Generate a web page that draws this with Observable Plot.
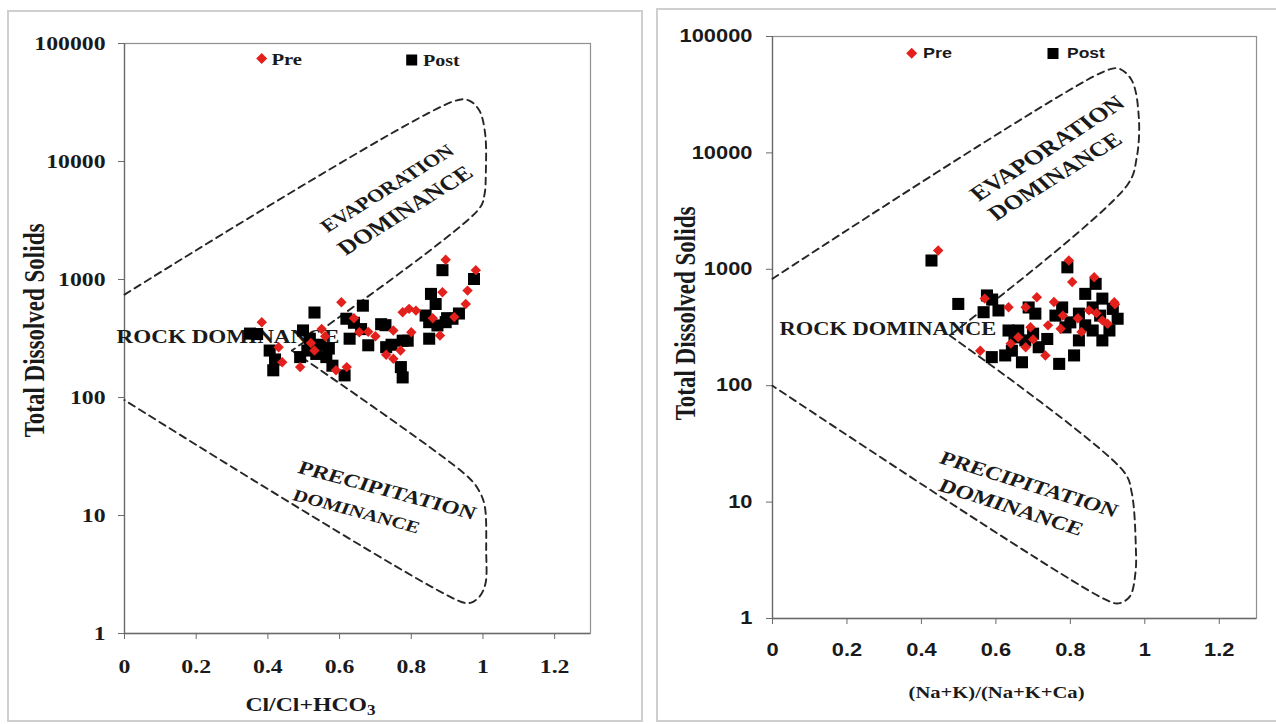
<!DOCTYPE html>
<html><head><meta charset="utf-8">
<script src="https://cdn.jsdelivr.net/npm/d3@7"></script>
<script src="https://cdn.jsdelivr.net/npm/@observablehq/plot@0.6"></script>
<style>
html,body{margin:0;padding:0;background:#fff}
body{width:1276px;height:724px;position:relative;overflow:hidden}
.chart{position:absolute;top:0}
.panel{position:absolute;border:2px solid #cfcfcf;box-sizing:border-box;pointer-events:none}
#overlay{position:absolute;left:0;top:0;pointer-events:none}
</style></head><body>
<div id="left" class="chart" style="left:0;width:640px;height:724px"></div>
<div id="right" class="chart" style="left:648px;width:628px;height:724px"></div>
<div class="panel" style="left:7px;top:10px;width:636px;height:712px"></div>
<div class="panel" style="left:656px;top:8px;width:630px;height:714px"></div>
<svg id="overlay" width="1276" height="724"></svg>
<script>
// ---------- tick labels ----------
const xTicks = [0, 0.2, 0.4, 0.6, 0.8, 1, 1.2];
const yTicks = [1, 10, 100, 1000, 10000, 100000];

// ---------- left: Cl/(Cl+HCO3) vs TDS ----------
const anionPreRatio = [0.383,0.43,0.44,0.49,0.55,0.605,0.62,0.655,0.75,0.75,0.776,0.794,0.813,0.80,0.88,0.887,0.896,0.952,0.957,0.98,0.52,0.56,0.68,0.70,0.73,0.77,0.86,0.92,0.59,0.53,0.64];
const anionPreTDS   = [435,267,199,181,380,642,181,357,370,213,527,564,545,357,335,780,1470,620,805,1200,290,330,360,330,230,250,470,480,170,250,470];
const anionPostRatio = [0.887,0.975,0.855,0.868,0.84,0.85,0.873,0.896,0.915,0.933,0.85,0.776,0.771,0.776,0.73,0.716,0.728,0.68,0.66,0.628,0.619,0.665,0.53,0.498,0.517,0.51,0.535,0.563,0.58,0.614,0.405,0.415,0.35,0.49,0.79,0.545,0.52,0.57,0.64,0.42,0.37,0.90,0.745];
const anionPostTDS   = [1200,1010,755,620,495,435,408,435,465,515,315,303,181,148,267,418,410,277,380,315,465,600,525,370,315,250,234,220,186,154,250,170,348,220,303,280,270,260,430,210,345,470,280];
const anionUpperBoundRatio = [0, 0.92, 0.96, 0.99, 1.006, 1.008, 1.004, 0.99, 0.467];
const anionUpperBoundTDS   = [745, 32500, 33000, 27000, 17300, 8000, 5200, 4000, 250];
const anionLowerBoundRatio = [0.467, 0.96, 0.99, 1.005, 1.009, 1.007, 0.99, 0.965, 0.94, 0];
const anionLowerBoundTDS   = [250, 21, 16, 12, 5, 2.65, 2.05, 1.82, 1.85, 95];

// ---------- right: (Na+K)/(Na+K+Ca) vs TDS ----------
const cationPreRatio = [0.445,0.558,0.634,0.71,0.756,0.796,0.805,0.864,0.918,0.886,0.85,0.693,0.68,0.733,0.66,0.774,0.68,0.57,0.82,0.90,0.74,0.64,0.70,0.78,0.87,0.92,0.83];
const cationPreTDS   = [1450,200,472,575,524,1190,777,855,522,364,444,318,214,182,261,309,472,560,380,340,330,230,250,400,420,500,290];
const cationPostRatio = [0.427,0.499,0.576,0.567,0.607,0.634,0.589,0.625,0.67,0.679,0.688,0.706,0.738,0.77,0.792,0.778,0.787,0.81,0.823,0.823,0.84,0.868,0.886,0.86,0.86,0.886,0.905,0.927,0.914,0.715,0.66,0.643,0.76,0.80,0.84,0.65,0.70,0.88,0.59];
const cationPostTDS   = [1190,504,596,428,443,298,176,182,159,245,470,416,252,154,1040,470,317,182,245,416,615,750,560,470,298,245,298,376,457,214,298,200,400,350,330,260,280,400,550];
const cationUpperBoundRatio = [0, 0.89, 0.93, 0.965, 0.984, 0.978, 0.954, 0.476];
const cationUpperBoundTDS   = [830, 50000, 53000, 42000, 20000, 9000, 5350, 270];
const cationLowerBoundRatio = [0.476, 0.945, 0.965, 0.976, 0.975, 0.96, 0.93, 0.895, 0];
const cationLowerBoundTDS   = [270, 18, 12, 4, 2.5, 1.55, 1.35, 1.45, 100];

// ---------- text ----------
const zoneLabels = ["EVAPORATION", "DOMINANCE", "PRECIPITATION", "DOMINANCE"];
const rockLabel = "ROCK DOMINANCE";
const yTitle = "Total Dissolved Solids";
const seriesNames = ["Pre", "Post"];

const STRETCH = 1.25;
const serif = "'Liberation Serif', 'Times New Roman', serif";
const sans = "'Liberation Sans', Arial, sans-serif";

function stretchText(svg) {
  svg.querySelectorAll("text").forEach(t => {
    const tr = t.getAttribute("transform") || "";
    let tx = 0, ty = 0, rest = tr;
    const m = tr.match(/translate\(\s*([-\d.eE+]+)(?:[\s,]+([-\d.eE+]+))?\s*\)/);
    if (m) { tx = +m[1]; ty = +(m[2] || 0); rest = tr.replace(m[0], ""); }
    const xa = t.getAttribute("x"), ya = t.getAttribute("y");
    if (xa != null && xa !== "" && !isNaN(+xa)) { tx += +xa; t.removeAttribute("x"); }
    if (ya != null && ya !== "" && !isNaN(+ya)) { ty += +ya; t.removeAttribute("y"); }
    t.setAttribute("transform", (`translate(${tx},${ty}) scale(${STRETCH},1) ` + rest).trim());
  });
}

function gibbs(cfg) {
  const pts = (xs, ys) => xs.map((x, i) => ({x, y: ys[i]}));
  const pre = pts(cfg.preX, cfg.preY);
  const post = pts(cfg.postX, cfg.postY);
  const bounds = [
    ...pts(cfg.upX, cfg.upY).map(d => ({...d, z: "upper"})),
    ...pts(cfg.loX, cfg.loY).map(d => ({...d, z: "lower"}))
  ];
  const fmt = d => String(d);
  const svg = Plot.plot({
    width: cfg.width, height: 724,
    marginLeft: cfg.ml, marginRight: cfg.mr, marginTop: cfg.mt, marginBottom: cfg.mb,
    style: {fontFamily: cfg.tickFont, fontSize: cfg.tickSize + "px", fontWeight: "bold", color: "#1a1a1a", background: "transparent", overflow: "visible"},
    x: {domain: [0, 1.3], label: null},
    y: {type: "log", domain: [1, 100000], label: null},
    marks: [
      Plot.frame({stroke: "#8f8f8f", strokeWidth: 1.2}),
      Plot.ruleX([0], {stroke: "#6a6a6a", strokeWidth: 1.3}),
      Plot.ruleY([1], {stroke: "#6a6a6a", strokeWidth: 1.3}),
      Plot.axisX({ticks: xTicks, tickFormat: fmt, tickSize: 6, tickPadding: 19.5, label: null, stroke: "#6a6a6a"}),
      Plot.axisY({ticks: yTicks, tickFormat: fmt, tickSize: 6, tickPadding: cfg.yPad, label: null, stroke: "#6a6a6a"}),
      Plot.line(bounds, {x: "x", y: "y", z: "z", stroke: "#262626", strokeWidth: 1.9, strokeDasharray: "7,5", curve: "catmull-rom"}),
      Plot.text(cfg.ann, {x: "x", y: "y", text: d => d.text, rotate: d => d.rotate, fontSize: d => d.size, fontFamily: serif, fontWeight: "bold", fill: "#1a1a1a"}),
      Plot.text([cfg.rock], {x: "x", y: "y", text: d => d.text, dx: cfg.rock.dx, textAnchor: "start", fontSize: cfg.rock.size, fontFamily: serif, fontWeight: "bold", fill: "#1a1a1a"}),
      Plot.dot(post, {x: "x", y: "y", symbol: "square", r: 6.8, fill: "#000"}),
      Plot.dot(pre, {x: "x", y: "y", symbol: "diamond2", r: 4.7, fill: "#e3201b"}),
      Plot.text([yTitle], {text: d => d, frameAnchor: "left", textAnchor: "middle", lineAnchor: "middle", dx: cfg.yTitleDx, dy: cfg.yTitleDy, rotate: -90, fontSize: 23, fontFamily: serif, fontWeight: "bold", fill: "#1a1a1a"}),
      Plot.text([cfg.xTitle], {text: d => d, frameAnchor: "bottom", textAnchor: "middle", lineAnchor: "middle", dx: cfg.xTitleDx, dy: cfg.xTitleDy, fontSize: cfg.xTitleSize, fontFamily: serif, fontWeight: "bold", fill: "#1a1a1a"})
    ]
  });
  stretchText(svg);
  const t = [...svg.querySelectorAll("text")].find(t => t.textContent === "Cl/Cl+HCO3");
  if (t) {
    t.textContent = "Cl/Cl+HCO";
    const ts = document.createElementNS("http://www.w3.org/2000/svg", "tspan");
    ts.setAttribute("dy", "0.3em");
    ts.setAttribute("font-size", "0.72em");
    ts.textContent = "3";
    t.appendChild(ts);
  }
  return svg;
}

document.getElementById("left").appendChild(gibbs({
  width: 640, ml: 124, mr: 50, mt: 43, mb: 91,
  tickFont: serif, tickSize: 19, yPad: 13,
  preX: anionPreRatio, preY: anionPreTDS, postX: anionPostRatio, postY: anionPostTDS,
  upX: anionUpperBoundRatio, upY: anionUpperBoundTDS, loX: anionLowerBoundRatio, loY: anionLowerBoundTDS,
  ann: [
    {text: zoneLabels[0], x: 0.733, y: 5900, rotate: -38, size: 17.8},
    {text: zoneLabels[1], x: 0.783, y: 3845, rotate: -38, size: 20.5},
    {text: zoneLabels[2], x: 0.733, y: 16.3, rotate: 18.5, size: 18.8},
    {text: zoneLabels[3], x: 0.647, y: 10.8, rotate: 18.5, size: 16.6}
  ],
  rock: {text: rockLabel, x: 0, y: 326, dx: -8, size: 18.5},
  yTitleDx: -90, yTitleDy: -8,
  xTitle: "Cl/Cl+HCO3", xTitleDx: -47, xTitleDy: 71, xTitleSize: 19
}));

document.getElementById("right").appendChild(gibbs({
  width: 628, ml: 124, mr: 20, mt: 36, mb: 106,
  tickFont: sans, tickSize: 17.5, yPad: 14,
  preX: cationPreRatio, preY: cationPreTDS, postX: cationPostRatio, postY: cationPostTDS,
  upX: cationUpperBoundRatio, upY: cationUpperBoundTDS, loX: cationLowerBoundRatio, loY: cationLowerBoundTDS,
  ann: [
    {text: zoneLabels[0], x: 0.738, y: 10900, rotate: -39.3, size: 20.9},
    {text: zoneLabels[1], x: 0.759, y: 6270, rotate: -37.8, size: 20.2},
    {text: zoneLabels[2], x: 0.689, y: 14.2, rotate: 21.3, size: 19.1},
    {text: zoneLabels[3], x: 0.641, y: 9.0, rotate: 21.9, size: 19.2}
  ],
  rock: {text: rockLabel, x: 0, y: 304, dx: 7, size: 18},
  yTitleDx: -87, yTitleDy: -14,
  xTitle: "(Na+K)/(Na+K+Ca)", xTitleDx: -18, xTitleDy: 74, xTitleSize: 16.5
}));

// ---------- legends ----------
const legendItems = [
  {sym: "diamond", cx: 261.7, cy: 58.5, s: 5.5, label: seriesNames[0], tx: 271.5, ty: 59, font: serif, size: 16.5},
  {sym: "square",  cx: 411.7, cy: 60,   s: 5.5, label: seriesNames[1], tx: 423,   ty: 60, font: serif, size: 16},
  {sym: "diamond", cx: 911.7, cy: 53.3, s: 5.5, label: seriesNames[0], tx: 923,   ty: 53, font: sans, size: 14.4},
  {sym: "square",  cx: 1053,  cy: 53.5, s: 5.5, label: seriesNames[1], tx: 1067,  ty: 53.5, font: sans, size: 14}
];
const ov = d3.select("#overlay");
for (const it of legendItems) {
  if (it.sym === "diamond") {
    ov.append("path").attr("d", `M${it.cx},${it.cy - it.s}L${it.cx + it.s},${it.cy}L${it.cx},${it.cy + it.s}L${it.cx - it.s},${it.cy}Z`).attr("fill", "#e3201b");
  } else {
    ov.append("rect").attr("x", it.cx - it.s).attr("y", it.cy - it.s).attr("width", 2 * it.s).attr("height", 2 * it.s).attr("fill", "#000");
  }
  ov.append("text").attr("transform", `translate(${it.tx},${it.ty}) scale(${STRETCH},1)`).attr("dy", "0.35em")
    .attr("font-family", it.font).attr("font-size", it.size).attr("font-weight", "bold").attr("fill", "#1a1a1a").text(it.label);
}
</script></body></html>
